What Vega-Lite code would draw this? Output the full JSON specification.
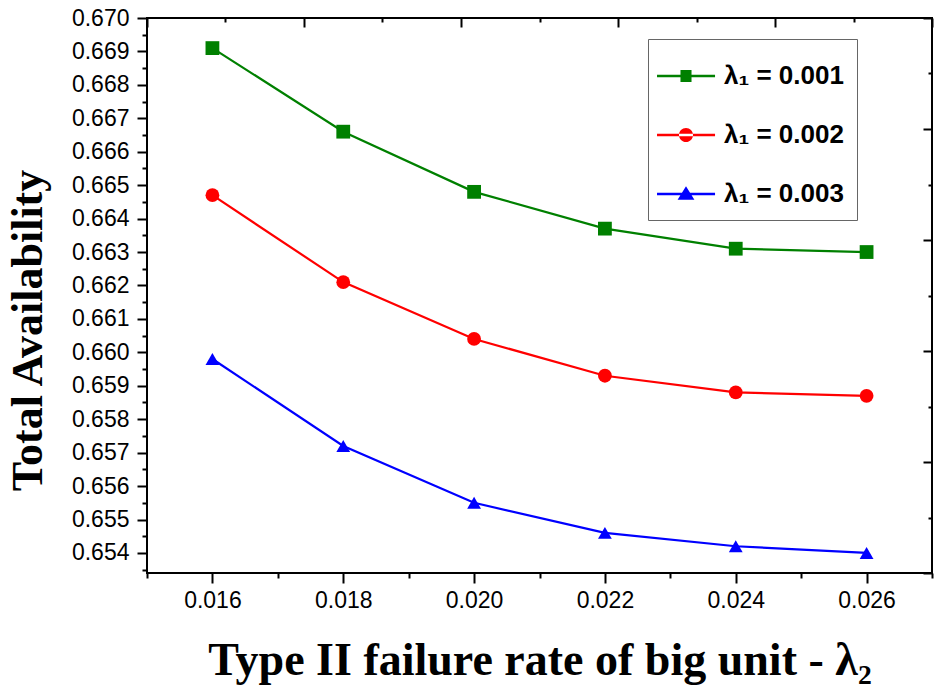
{
  "$schema": "https://vega.github.io/schema/vega-lite/v6.json",
  "width": 785,
  "height": 555,
  "autosize": {"type": "none"},
  "padding": {"left": 147, "top": 18, "right": 2, "bottom": 120},
  "background": "white",
  "config": {
    "view": {"stroke": "#000", "strokeWidth": 2},
    "axis": {"grid": false, "domain": false, "tickColor": "#000", "tickWidth": 2, "labelColor": "#000", "labelFont": "Liberation Sans", "labelFontSize": 23, "titleColor": "#000"}
  },
  "data": {"values": [
    {"x": 0.016, "A": 0.6691, "s": "λ₁ = 0.001"},
    {"x": 0.018, "A": 0.6666, "s": "λ₁ = 0.001"},
    {"x": 0.020, "A": 0.6648, "s": "λ₁ = 0.001"},
    {"x": 0.022, "A": 0.6637, "s": "λ₁ = 0.001"},
    {"x": 0.024, "A": 0.6631, "s": "λ₁ = 0.001"},
    {"x": 0.026, "A": 0.6630, "s": "λ₁ = 0.001"},
    {"x": 0.016, "A": 0.6647, "s": "λ₁ = 0.002"},
    {"x": 0.018, "A": 0.6621, "s": "λ₁ = 0.002"},
    {"x": 0.020, "A": 0.6604, "s": "λ₁ = 0.002"},
    {"x": 0.022, "A": 0.6593, "s": "λ₁ = 0.002"},
    {"x": 0.024, "A": 0.6588, "s": "λ₁ = 0.002"},
    {"x": 0.026, "A": 0.6587, "s": "λ₁ = 0.002"},
    {"x": 0.016, "A": 0.6598, "s": "λ₁ = 0.003"},
    {"x": 0.018, "A": 0.6572, "s": "λ₁ = 0.003"},
    {"x": 0.020, "A": 0.6555, "s": "λ₁ = 0.003"},
    {"x": 0.022, "A": 0.6546, "s": "λ₁ = 0.003"},
    {"x": 0.024, "A": 0.6542, "s": "λ₁ = 0.003"},
    {"x": 0.026, "A": 0.6540, "s": "λ₁ = 0.003"}
  ]},
  "resolve": {
    "axis": {"x": "independent", "y": "independent"},
    "scale": {"color": "independent", "shape": "independent"}
  },
  "layer": [
    {
      "mark": {"type": "line", "strokeWidth": 2.2},
      "encoding": {
        "x": {"field": "x", "type": "quantitative", "scale": {"domain": [0.015, 0.027], "nice": false, "zero": false},
          "axis": {"orient": "bottom", "values": [0.016, 0.018, 0.020, 0.022, 0.024, 0.026], "format": ".3f", "tickSize": 10, "labelPadding": 6,
            "title": "Type II failure rate of big unit - λ₂", "titleFont": "Liberation Serif", "titleFontSize": 46, "titleFontWeight": "bold", "titlePadding": 26}},
        "y": {"field": "A", "type": "quantitative", "scale": {"domain": [0.6534, 0.670], "nice": false, "zero": false},
          "axis": {"orient": "left", "values": [0.654, 0.655, 0.656, 0.657, 0.658, 0.659, 0.660, 0.661, 0.662, 0.663, 0.664, 0.665, 0.666, 0.667, 0.668, 0.669, 0.670], "format": ".3f", "tickSize": 10, "labelPadding": 8,
            "title": "Total Availability", "titleFont": "Liberation Serif", "titleFontSize": 44, "titleFontWeight": "bold", "titleX": -97, "titleY": 312}},
        "color": {"field": "s", "type": "nominal", "scale": {"domain": ["λ₁ = 0.001", "λ₁ = 0.002", "λ₁ = 0.003"], "range": ["#008000", "#ff0000", "#0000ff"]}, "legend": null}
      }
    },
    {
      "mark": {"type": "point", "filled": true, "opacity": 1, "size": 190},
      "encoding": {
        "x": {"field": "x", "type": "quantitative", "scale": {"domain": [0.015, 0.027], "nice": false, "zero": false},
          "axis": {"orient": "bottom", "values": [0.015, 0.017, 0.019, 0.021, 0.023, 0.025, 0.027], "tickSize": 5, "labels": false, "title": null}},
        "y": {"field": "A", "type": "quantitative", "scale": {"domain": [0.6534, 0.670], "nice": false, "zero": false},
          "axis": {"orient": "left", "values": [0.6535, 0.6545, 0.6555, 0.6565, 0.6575, 0.6585, 0.6595, 0.6605, 0.6615, 0.6625, 0.6635, 0.6645, 0.6655, 0.6665, 0.6675, 0.6685, 0.6695], "tickSize": 5, "labels": false, "title": null}},
        "color": {"field": "s", "type": "nominal", "scale": {"domain": ["λ₁ = 0.001", "λ₁ = 0.002", "λ₁ = 0.003"], "range": ["#008000", "#ff0000", "#0000ff"]}, "legend": null},
        "shape": {"field": "s", "type": "nominal", "scale": {"domain": ["λ₁ = 0.001", "λ₁ = 0.002", "λ₁ = 0.003"], "range": ["square", "circle", "triangle-up"]}, "legend": null}
      }
    },
    {
      "mark": {"type": "point", "filled": true, "opacity": 0, "size": 144},
      "encoding": {
        "x": {"field": "x", "type": "quantitative", "scale": {"domain": [0.015, 0.027], "nice": false, "zero": false},
          "axis": {"orient": "top", "values": [0.015, 0.0174, 0.0198, 0.0222, 0.0246, 0.027], "tickSize": -9, "labels": false, "title": null}},
        "y": {"field": "A", "type": "quantitative", "scale": {"domain": [0.6534, 0.670], "nice": false, "zero": false},
          "axis": {"orient": "right", "values": [0.670, 0.66668, 0.66336, 0.66004, 0.65672, 0.6534], "tickSize": -9, "labels": false, "title": null}},
        "color": {"field": "s", "type": "nominal", "scale": {"domain": ["λ₁ = 0.001", "λ₁ = 0.002", "λ₁ = 0.003"], "range": ["#008000", "#ff0000", "#0000ff"]},
          "legend": {"orient": "none", "legendX": 501, "legendY": 21, "title": " ", "titleFontSize": 5, "titlePadding": 6, "strokeColor": "#666", "fillColor": "white", "padding": 13, "symbolSize": 144, "symbolOpacity": 1, "symbolStrokeWidth": 0, "labelFont": "Liberation Sans", "labelFontSize": 26, "labelFontWeight": "bold", "labelColor": "#000", "labelOffset": 37, "rowPadding": 33, "labelExpr": "(datum.value === 'λ₁ = 0.001' ? ' ' : '') + datum.label + '    '"}},
        "shape": {"field": "s", "type": "nominal", "scale": {"domain": ["λ₁ = 0.001", "λ₁ = 0.002", "λ₁ = 0.003"], "range": [
          "M-2.83,-0.2H6.84V0.2H-2.83Z M1.08,-1H2.92V1H1.08Z",
          "M-2.83,-0.2H6.84V0.2H-2.83Z M0.83,0A1.17,1.17,0,1,0,3.17,0A1.17,1.17,0,1,0,0.83,0Z",
          "M-2.83,-0.2H6.84V0.2H-2.83Z M2,-1.3L3.4,0.95H0.6Z"]},
          "legend": {"orient": "none", "legendX": 501, "legendY": 21, "title": " ", "titleFontSize": 5, "titlePadding": 6, "strokeColor": "#666", "fillColor": "white", "padding": 13, "symbolSize": 144, "symbolOpacity": 1, "symbolStrokeWidth": 0, "labelFont": "Liberation Sans", "labelFontSize": 26, "labelFontWeight": "bold", "labelColor": "#000", "labelOffset": 37, "rowPadding": 33, "labelExpr": "(datum.value === 'λ₁ = 0.001' ? ' ' : '') + datum.label + '    '"}}
      }
    },
    {
      "mark": {"type": "point", "opacity": 0},
      "encoding": {
        "x": {"field": "x", "type": "quantitative", "scale": {"domain": [0.015, 0.027], "nice": false, "zero": false},
          "axis": {"orient": "top", "values": [0.0162, 0.0186, 0.021, 0.0234, 0.0258], "tickSize": -4, "labels": false, "title": null}},
        "y": {"field": "A", "type": "quantitative", "scale": {"domain": [0.6534, 0.670], "nice": false, "zero": false},
          "axis": {"orient": "right", "values": [0.66834, 0.66502, 0.6617, 0.65838, 0.65506], "tickSize": -4, "labels": false, "title": null}}
      }
    }
  ]
}
